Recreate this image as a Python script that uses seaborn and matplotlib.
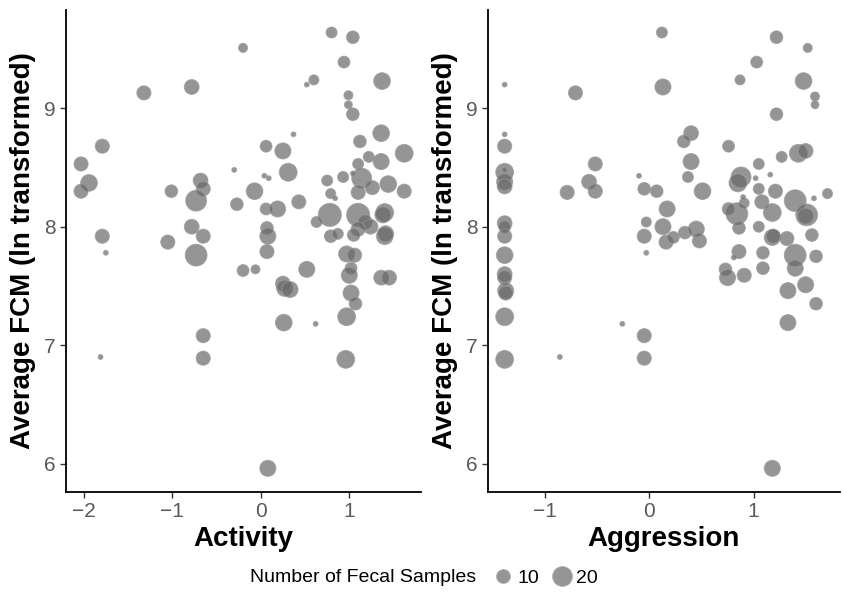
import pandas as pd
import matplotlib
matplotlib.use("Agg")
import matplotlib.pyplot as plt
from matplotlib.lines import Line2D
import seaborn as sns

# --- данные: активность (левая панель) ---
act_x = [-1.32, -0.78, -1.79, -2.03, -1.94, -2.03, -1.01, -0.68, -0.65, -0.73,
         -0.78, -0.65, -1.79, -1.05, -0.73, -1.75, -0.65, -0.65, -1.81, -0.20,
         0.80, 1.04, 0.94, 1.37, 0.60, 0.52, 0.99, 0.99, 1.04, 0.37,
         1.36, 1.12, 0.06, 0.25, 1.62, 1.22, 1.36, -0.30, 1.10, 0.04,
         0.09, 0.31, 0.75, 0.93, 1.14, 1.04, 1.44, 1.26, 1.62, -0.07,
         1.10, 0.79, 0.84, -0.27, 0.06, 0.19, 0.43, 0.78, 1.10, 0.63,
         1.40, 1.38, 1.18, 1.24, 1.10, 1.40, 1.41, 0.79, 0.87, 1.05,
         0.07, 0.08, 0.97, 1.06, 0.52, 1.02, 1.00, 1.36, 1.45, 0.07,
         -0.20, -0.06, 0.25, 0.27, 0.33, 1.02, 1.07, 0.97, 0.62, 0.26,
         0.96, 0.08]
act_y = [9.13, 9.18, 8.68, 8.53, 8.37, 8.30, 8.30, 8.39, 8.32, 8.22,
         8.00, 7.92, 7.92, 7.87, 7.76, 7.78, 7.08, 6.89, 6.90, 9.51,
         9.64, 9.60, 9.39, 9.23, 9.24, 9.20, 9.11, 9.03, 8.95, 8.78,
         8.79, 8.72, 8.68, 8.64, 8.62, 8.59, 8.55, 8.48, 8.53, 8.43,
         8.41, 8.46, 8.39, 8.42, 8.41, 8.45, 8.36, 8.33, 8.30, 8.30,
         8.29, 8.28, 8.24, 8.19, 8.15, 8.15, 8.21, 8.10, 8.10, 8.04,
         8.12, 8.10, 8.04, 8.00, 7.98, 7.92, 7.94, 7.92, 7.94, 7.93,
         7.99, 7.92, 7.77, 7.76, 7.64, 7.65, 7.59, 7.57, 7.57, 7.79,
         7.63, 7.64, 7.52, 7.48, 7.47, 7.44, 7.35, 7.24, 7.18, 7.19,
         6.88, 5.96]
act_n = [11, 12, 11, 11, 15, 11, 9, 12, 11, 23,
         12, 11, 11, 11, 25, 2, 11, 11, 2, 5,
         7, 9, 8, 15, 6, 2, 5, 4, 9, 2,
         15, 9, 8, 14, 17, 7, 14, 2, 7, 2,
         2, 17, 7, 7, 21, 2, 15, 11, 11, 15,
         11, 6, 2, 9, 8, 14, 11, 28, 28, 7,
         17, 14, 11, 12, 11, 15, 14, 9, 7, 9,
         9, 14, 14, 11, 14, 8, 14, 12, 12, 11,
         8, 5, 12, 14, 14, 14, 9, 17, 2, 15,
         17, 14]

# --- данные: агрессия (правая панель) ---
agg_x = [-1.39, -0.71, -1.39, -1.39, -1.39, -1.39, -1.39, -1.39, -0.52, -0.58,
         -0.52, -0.79, -0.10, -0.05, -1.39, -1.39, -1.39, -0.05, -0.03, -1.39,
         -1.39, -1.39, -1.38, -1.38, -1.39, -1.39, -0.86, -0.26, -0.03, -0.05,
         -0.05, 0.16, 0.23, 0.34, 0.48, 0.45, 0.86, 0.81, 1.09, 1.18,
         1.19, 1.32, 1.56, 1.40, 1.40, 1.60, 0.73, 0.75, 0.91, 1.09,
         1.33, 1.50, 1.60, 1.33, 1.18, 0.12, 1.22, 1.52, 1.03, 0.13,
         0.87, 1.48, 1.59, 1.59, 1.22, 0.40, 0.33, 0.76, 1.43, 1.50,
         1.27, 0.40, 1.05, 0.37, 1.16, 1.02, 0.88, 0.85, 0.07, 0.51,
         1.05, 1.21, 1.71, 1.58, 1.40, 0.17, 1.08, 0.91, 0.90, 0.84,
         0.76, 1.18, 1.51, 1.50, 0.13, 0.86, 1.05]
agg_y = [9.20, 9.13, 8.78, 8.68, 8.46, 8.48, 8.38, 8.34, 8.53, 8.38,
         8.30, 8.29, 8.43, 8.32, 8.03, 8.00, 7.92, 7.92, 8.04, 7.76,
         7.60, 7.57, 7.46, 7.44, 7.24, 6.88, 6.90, 7.18, 7.78, 7.08,
         6.89, 7.87, 7.91, 7.95, 7.88, 7.98, 7.79, 7.74, 7.78, 7.91,
         7.92, 7.90, 7.93, 7.76, 7.65, 7.75, 7.64, 7.57, 7.59, 7.65,
         7.46, 7.51, 7.35, 7.19, 5.96, 9.64, 9.60, 9.51, 9.39, 9.18,
         9.24, 9.23, 9.10, 9.03, 8.95, 8.79, 8.72, 8.68, 8.62, 8.64,
         8.59, 8.55, 8.53, 8.42, 8.44, 8.41, 8.42, 8.37, 8.30, 8.30,
         8.32, 8.30, 8.28, 8.24, 8.22, 8.15, 8.21, 8.20, 8.25, 8.11,
         8.15, 8.12, 8.10, 8.09, 8.00, 7.99, 8.00]
agg_n = [2, 11, 2, 11, 17, 2, 14, 12, 11, 12,
         11, 11, 2, 9, 12, 8, 11, 11, 6, 15,
         12, 11, 14, 11, 17, 17, 2, 2, 2, 11,
         11, 11, 8, 9, 11, 14, 11, 2, 9, 14,
         11, 11, 9, 25, 14, 9, 9, 14, 11, 9,
         14, 14, 9, 14, 14, 7, 9, 5, 8, 14,
         6, 15, 5, 4, 9, 12, 9, 8, 17, 12,
         7, 14, 7, 7, 2, 2, 21, 17, 9, 15,
         7, 11, 6, 2, 25, 14, 11, 6, 2, 25,
         9, 17, 25, 14, 14, 9, 7]

y_ticks = [6, 7, 8, 9]
legend_n = [10, 20]

act_df = pd.DataFrame({"x": act_x, "y": act_y, "n": act_n})
agg_df = pd.DataFrame({"x": agg_x, "y": agg_y, "n": agg_n})

sns.set_theme(style="ticks")
plt.rcParams["font.family"] = ["Liberation Sans", "DejaVu Sans"]

N_NORM = (2, 28)
SIZES = (12.5, 277.7)
FILL = "#686868"
EDGE = "#9a9a9a"
ALPHA = 0.7


def marker_area(n):
    """Площадь маркера (pt^2) для заданного числа проб."""
    lo, hi = N_NORM
    return SIZES[0] + (SIZES[1] - SIZES[0]) * (n - lo) / (hi - lo)


fig = plt.figure(figsize=(8.43, 5.94), dpi=100)
ax1 = fig.add_axes([66 / 843, 102 / 594, 355 / 843, 482 / 594])
ax2 = fig.add_axes([488 / 843, 102 / 594, 352 / 843, 482 / 594])

panels = [
    (ax1, act_df, "Activity", (-2.2, 1.81), [-2, -1, 0, 1]),
    (ax2, agg_df, "Aggression", (-1.55, 1.83), [-1, 0, 1]),
]

for ax, df, xlabel, xlim, xticks in panels:
    sns.scatterplot(data=df, x="x", y="y", size="n", sizes=SIZES, size_norm=N_NORM,
                    color=FILL, alpha=ALPHA, edgecolor=EDGE, linewidth=0.7,
                    legend=False, ax=ax)
    ax.set_xlim(*xlim)
    ax.set_ylim(5.76, 9.83)
    ax.set_xticks(xticks)
    ax.set_yticks(y_ticks)
    ax.set_xlabel(xlabel, fontsize=20, fontweight="bold", labelpad=3, color="black")
    ax.set_ylabel("Average FCM (ln transformed)", fontsize=20, fontweight="bold",
                  labelpad=6, color="black")
    ax.tick_params(axis="both", labelsize=15, labelcolor="#5a5a5a", color="#333333",
                   length=4, width=1)
    for side in ["left", "bottom"]:
        ax.spines[side].set_linewidth(1.3)
        ax.spines[side].set_color("black")
    sns.despine(ax=ax)

# легенда размера внизу
handles = [Line2D([], [], linestyle="none", marker="o", markersize=marker_area(v) ** 0.5,
                  markerfacecolor=FILL, markeredgecolor=EDGE, alpha=ALPHA)
           for v in legend_n]
fig.text(476 / 843, 0.027, "Number of Fecal Samples", ha="right", va="center",
         fontsize=14, color="black")
fig.legend(handles, [str(v) for v in legend_n], ncol=2, loc="center left",
           bbox_to_anchor=(482 / 843, 0.027), frameon=False, fontsize=14,
           handletextpad=0.1, columnspacing=0.6, borderpad=0, handlelength=1.2,
           labelcolor="black")

fig.savefig("out.png", dpi=100)
